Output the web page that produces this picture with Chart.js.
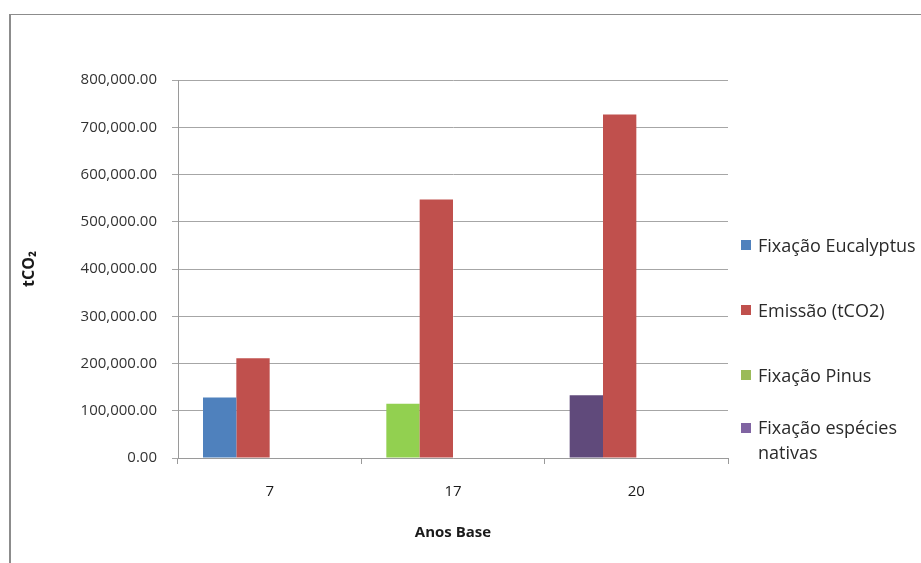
<!DOCTYPE html>
<html><head><meta charset="utf-8">
<script src="https://cdn.jsdelivr.net/npm/chart.js@4"></script>
<style>
html,body{margin:0;padding:0;background:#fff;width:921px;height:563px;overflow:hidden;}
#frame{position:absolute;left:9px;top:14px;width:1000px;height:700px;border-left:2px solid #8c8c8c;border-top:1px solid #8c8c8c;}
#wrap{position:absolute;left:0;top:0;width:921px;height:563px;}
#legend{position:absolute;left:0;top:0;font-family:'Open Sans',sans-serif;font-size:18px;color:#2a2a2a;}
.li{position:absolute;white-space:nowrap;line-height:24px;}
.box{position:absolute;width:10px;height:10px;}
</style></head><body>
<div id="frame"></div>
<div id="wrap"><canvas id="c" width="921" height="563"></canvas></div>
<div id="legend"></div>
<script>
// ---- data ----
const categories = ['7', '17', '20'];
const fixacaoEucalyptus = [128000, null, null];
const emissao = [211000, 547000, 727000];
const fixacaoPinus = [null, 115000, null];
const fixacaoNativas = [null, null, 133000];
const yMin = 0, yMax = 800000, yStep = 100000;
const legendLabels = [['Fixação Eucalyptus'], ['Emissão (tCO2)'], ['Fixação Pinus'], ['Fixação espécies', 'nativas']];

// ---- styles ----
const barColors = ['#4F81BD', '#C0504D', '#92D050', '#604A7B'];
const legendColors = ['#4F81BD', '#C0504D', '#9BBB59', '#8064A2'];
const axisColor = '#9a9a9a';
const gridColor = '#a6a6a6';
const font = 'Open Sans';

const series = [fixacaoEucalyptus, emissao, fixacaoPinus, fixacaoNativas];
const stacks = ['fix', 'em', 'fix', 'fix'];
const datasets = series.map((d, i) => ({
  label: legendLabels[i].join(' '),
  data: d,
  backgroundColor: barColors[i],
  borderWidth: 0,
  stack: stacks[i]
}));
// two empty slots (Excel keeps 4 slots per category)
datasets.push({label: '', data: [], stack: 'slot3'});
datasets.push({label: '', data: [], stack: 'slot4'});

new Chart(document.getElementById('c'), {
  type: 'bar',
  data: {labels: categories, datasets},
  options: {
    responsive: false,
    animation: false,
    devicePixelRatio: 1,
    categoryPercentage: 4 / 5.5,
    barPercentage: 1.0,
    layout: {padding: {left: 0, top: 80, right: 193, bottom: 0}},
    plugins: {legend: {display: false}, tooltip: {enabled: false}, title: {display: false}},
    scales: {
      x: {
        grid: {display: true, drawOnChartArea: false, tickLength: 6, color: axisColor, offset: true},
        border: {color: axisColor},
        ticks: {font: {family: font, size: 15}, color: '#1a1a1a', padding: 19},
        title: {display: true, text: 'Anos Base', font: {family: font, size: 15, weight: 'bold'}, color: '#1a1a1a', padding: {top: 0, bottom: 21}},
        afterFit: s => { s.height = 105; }
      },
      y: {
        min: yMin, max: yMax,
        ticks: {stepSize: yStep, font: {family: font, size: 15}, color: '#333', padding: 15,
          callback: v => Number(v).toLocaleString('en-US', {minimumFractionDigits: 2, maximumFractionDigits: 2})},
        grid: {color: gridColor, tickLength: 6},
        border: {color: axisColor},
        title: {display: true, text: 'tCO₂', font: {family: font, size: 16, weight: 'bold'}, color: '#1a1a1a', padding: {top: 20, bottom: 0}},
        afterFit: s => { s.width = 178; }
      }
    }
  }
});

// ---- legend (HTML) ----
const leg = document.getElementById('legend');
const legendCenter0 = 245, legendStep = 65, lineH = 25;
legendLabels.forEach((lines, i) => {
  const c = legendCenter0 + i * legendStep;
  const top = c - lines.length * lineH / 2;
  const box = document.createElement('div');
  box.className = 'box';
  box.style.left = '741px';
  box.style.top = (top + lineH / 2 - 5) + 'px';
  box.style.background = legendColors[i];
  leg.appendChild(box);
  const t = document.createElement('div');
  t.className = 'li';
  t.style.left = '758px';
  t.style.top = top + 'px';
  t.style.lineHeight = lineH + 'px';
  t.innerHTML = lines.join('<br>');
  leg.appendChild(t);
});
</script>
</body></html>
